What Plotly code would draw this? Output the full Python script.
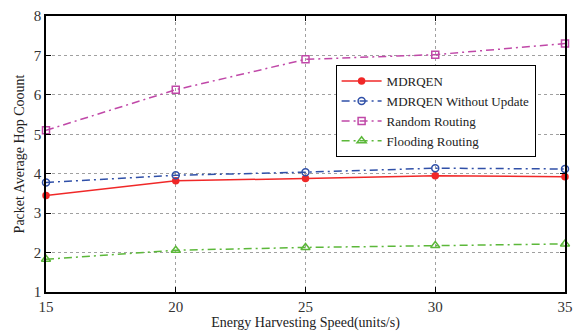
import plotly.graph_objects as go

speed = [15, 20, 25, 30, 35]
mdrqen = [3.45, 3.82, 3.88, 3.95, 3.92]
mdrqen_no_update = [3.78, 3.96, 4.04, 4.14, 4.12]
random_routing = [5.10, 6.13, 6.90, 7.02, 7.30]
flooding_routing = [1.83, 2.06, 2.13, 2.18, 2.22]

font = "Liberation Serif"
fig = go.Figure()
series = [
    ("MDRQEN", mdrqen, "#f02828", "solid", "circle", 6),
    ("MDRQEN Without Update", mdrqen_no_update, "#3050a8", "8px,4px,2px,4px", "circle-open", 7),
    ("Random Routing", random_routing, "#c048a8", "8px,4px,2px,4px", "square-open", 7),
    ("Flooding Routing", flooding_routing, "#5cb83a", "8px,4px,2px,4px", "triangle-up-open", 8),
]
for name, ys, color, dash, sym, size in series:
    fig.add_trace(go.Scatter(
        x=speed, y=ys, name=name, mode="lines+markers",
        line=dict(color=color, width=1.5, dash=dash),
        marker=dict(symbol=sym, size=size, color=color, line=dict(color=color, width=1.5)),
        cliponaxis=False,
    ))

axis_common = dict(
    showline=True, linecolor="black", linewidth=1.5, mirror="ticks",
    ticks="inside", ticklen=5, tickcolor="black",
    showgrid=True, gridcolor="#a0a0a0", griddash="dot", gridwidth=1,
    zeroline=False, tickfont=dict(family=font, size=15, color="#333"),
)
fig.update_xaxes(range=[15, 35], tickvals=speed, **axis_common,
                 title=dict(text="Energy Harvesting Speed(units/s)", font=dict(family=font, size=14, color="#222"), standoff=1))
fig.update_yaxes(range=[1, 8], dtick=1, **axis_common,
                 title=dict(text="Packet Average Hop Coount", font=dict(family=font, size=14, color="#222"), standoff=6))
fig.update_layout(
    width=581, height=334,
    margin=dict(l=46, r=13, t=8, b=41),
    plot_bgcolor="white", paper_bgcolor="white",
    legend=dict(x=0.558, y=0.822, xanchor="left", yanchor="top",
                bgcolor="white", bordercolor="black", borderwidth=1,
                font=dict(family=font, size=13, color="#222"),
                tracegroupgap=0, itemwidth=40),
    showlegend=True,
)
fig.write_html("out.html", config={"displayModeBar": False},
               post_script="document.body.style.margin='0';document.body.style.overflow='hidden';")
